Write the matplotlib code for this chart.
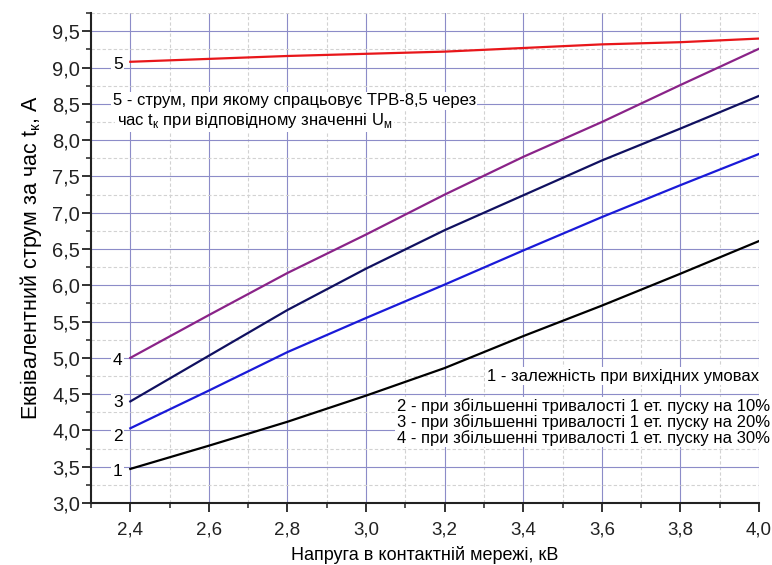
import matplotlib
matplotlib.use('Agg')
import matplotlib.pyplot as plt
from matplotlib.ticker import MultipleLocator, FuncFormatter

plt.rcParams['font.family'] = ['Liberation Sans', 'DejaVu Sans']
plt.rcParams['mathtext.fontset'] = 'custom'
plt.rcParams['mathtext.rm'] = 'Liberation Sans'
NARROW = ['Liberation Sans Narrow', 'Liberation Sans', 'DejaVu Sans']

# напруга, кВ
U = [2.4, 2.6, 2.8, 3.0, 3.2, 3.4, 3.6, 3.8, 4.0]
# еквівалентний струм, А
I1 = [3.47, 3.79, 4.12, 4.48, 4.86, 5.30, 5.72, 6.16, 6.61]
I2 = [4.03, 4.55, 5.08, 5.55, 6.01, 6.48, 6.94, 7.38, 7.81]
I3 = [4.40, 5.03, 5.66, 6.23, 6.76, 7.24, 7.72, 8.16, 8.61]
I4 = [5.00, 5.59, 6.17, 6.70, 7.25, 7.77, 8.25, 8.76, 9.26]
I5 = [9.08, 9.12, 9.16, 9.19, 9.22, 9.27, 9.32, 9.35, 9.40]

curves = [I1, I2, I3, I4, I5]
names = ['1', '2', '3', '4', '5']
colors = ['black', '#1a1ad8', '#101060', '#8a2388', '#e8161a']
lab_dy = [-2, -6, -1, -2, -2]  # зсув підписів кривих, pt

legend_txt = ['1 - залежність при вихідних умовах',
              '2 - при збільшенні тривалості 1 ет. пуску на 10%',
              '3 - при збільшенні тривалості 1 ет. пуску на 20%',
              '4 - при збільшенні тривалості 1 ет. пуску на 30%']

fig = plt.figure(figsize=(7.72, 5.65), dpi=100)
ax = fig.add_axes([0.1179, 0.1097, 0.8653, 0.867])

for c, col in zip(curves, colors):
    ax.plot(U, c, color=col, lw=1.6, zorder=3)

box = dict(boxstyle='square,pad=0.1', fc='white', ec='none')
for c, n, dy in zip(curves, names, lab_dy):
    ax.annotate(n, xy=(U[0], c[0]), xytext=(-9, dy), textcoords='offset points',
                ha='center', va='center', fontsize=12.5, bbox=box, zorder=4)

ax.set_xlim(2.3, 4.0)
ax.set_ylim(3.0, 9.75)
ax.xaxis.set_major_locator(MultipleLocator(0.2))
ax.xaxis.set_minor_locator(MultipleLocator(0.1))
ax.yaxis.set_major_locator(MultipleLocator(0.5))
ax.yaxis.set_minor_locator(MultipleLocator(0.25))
fmt = FuncFormatter(lambda v, p: ('%.1f' % v).replace('.', ','))
ax.xaxis.set_major_formatter(fmt)
ax.yaxis.set_major_formatter(fmt)

ax.grid(which='major', color='#8c8cc8', lw=0.8, ls='-')
ax.grid(which='minor', color='#d2d2d2', lw=0.8, ls=(0, (3, 2)))
ax.set_axisbelow(True)

ax.spines['top'].set_visible(False)
ax.spines['right'].set_visible(False)
for s in ['left', 'bottom']:
    ax.spines[s].set_linewidth(1.5)
    ax.spines[s].set_color('#222222')
ax.tick_params(which='major', direction='out', length=6.5, width=1.3, colors='#222222')
ax.tick_params(which='minor', direction='out', length=3.8, width=1.1, colors='#222222')
ax.tick_params(axis='x', which='major', pad=7, labelsize=13.5)
ax.tick_params(axis='y', which='major', pad=1.5, labelsize=14.5)

ax.set_xlabel('Напруга в контактній мережі, кВ', fontsize=13, family=NARROW, labelpad=5)
ax.set_ylabel('Еквівалентний струм за час t$_\\mathregular{к}$, А', fontsize=15.5, labelpad=6)

ax.text(2.355, 8.54, '5 - струм, при якому спрацьовує ТРВ-8,5 через',
        fontsize=12, family=NARROW, va='center', ha='left', bbox=box, zorder=4)
ax.text(2.365, 8.27, 'час t$_\\mathregular{к}$ при відповідному значенні U$_\\mathregular{м}$',
        fontsize=12, family=NARROW, va='center', ha='left', bbox=box, zorder=4)

leg_y = [4.75, 4.33, 4.12, 3.90]
leg_x = [4.0, 4.028, 4.028, 4.028]
for t, xx, yy in zip(legend_txt, leg_x, leg_y):
    # спочатку білі підкладки, потім сам текст поверх
    ax.text(xx, yy, t, fontsize=12, family=NARROW, ha='right', va='center',
            color='none', bbox=box, zorder=4)
    ax.text(xx, yy, t, fontsize=12, family=NARROW, ha='right', va='center', zorder=5)

fig.savefig('out.png', dpi=100)
